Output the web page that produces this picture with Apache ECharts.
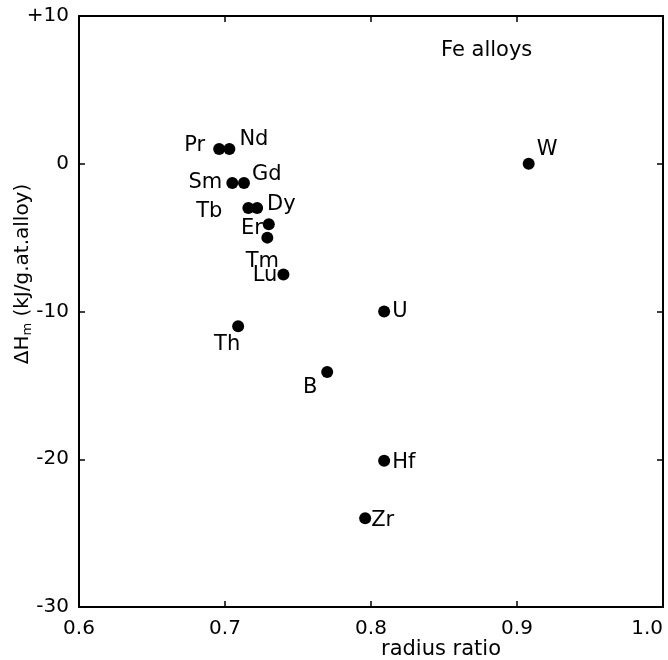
<!DOCTYPE html>
<html>
<head>
<meta charset="utf-8">
<script src="https://cdn.jsdelivr.net/npm/echarts@6/dist/echarts.min.js"></script>
<style>
  html, body { margin: 0; padding: 0; background: #fff; }
  #chart { width: 668px; height: 660px; }
</style>
</head>
<body>
<div id="chart"></div>
<script>
// Mixing enthalpy of Fe alloys against the solute/solvent radius ratio
const elements = ['Pr', 'Nd', 'Sm', 'Gd', 'Tb', 'Dy', 'Er', 'Tm', 'Lu', 'Th', 'B', 'U', 'Hf', 'Zr', 'W'];
const radiusRatio = [0.696, 0.703, 0.705, 0.713, 0.716, 0.722, 0.730, 0.729, 0.740, 0.709, 0.770, 0.809, 0.809, 0.796, 0.908];
const deltaH = [1.0, 1.0, -1.3, -1.3, -3.0, -3.0, -4.1, -5.0, -7.5, -11.0, -14.1, -10.0, -20.1, -24.0, 0.0];
const xTicks = [0.6, 0.7, 0.8, 0.9, 1.0];
const yTicks = [10, 0, -10, -20, -30];

const FONT = 'DejaVu Sans';
const INK = '#000';

// where each element symbol sits relative to its dot
const labelPlacement = {
  Pr: { position: 'left', distance: 8, offset: [0, -3] },
  Nd: { position: 'right', distance: 4, offset: [0, -9] },
  Sm: { position: 'left', distance: 4, offset: [0, 0] },
  Gd: { position: 'right', distance: 2, offset: [0, -8] },
  Tb: { position: 'left', distance: 20, offset: [0, 3] },
  Dy: { position: 'right', distance: 4, offset: [0, -4] },
  Er: { position: 'left', distance: 0, offset: [0, 4] },
  Tm: { position: 'bottom', distance: 7, offset: [-5, 0] },
  Lu: { position: 'left', distance: 0, offset: [0, 1] },
  Th: { position: 'bottom', distance: 2, offset: [-11, 0] },
  B:  { position: 'bottom', distance: -1, offset: [-17, 0] },
  U:  { position: 'right', distance: 2, offset: [0, 0] },
  Hf: { position: 'right', distance: 2, offset: [0, 2] },
  Zr: { position: 'right', distance: 0, offset: [0, 2] },
  W:  { position: 'right', distance: 2, offset: [0, -14] }
};

const points = elements.map((name, i) => ({
  name: name,
  value: [radiusRatio[i], deltaH[i]],
  label: Object.assign({ show: true, formatter: name, color: INK }, labelPlacement[name])
}));

const fmtY = v => (v > 0 ? '+' + v : String(v));

const xBase = {
  type: 'value', min: xTicks[0], max: xTicks[xTicks.length - 1], interval: 0.1,
  axisLine: { show: true, onZero: false, lineStyle: { color: INK, width: 2 } },
  axisTick: { show: true, inside: true, length: 6, lineStyle: { color: INK, width: 1.5 } },
  splitLine: { show: false }
};
const yBase = {
  type: 'value', min: yTicks[yTicks.length - 1], max: yTicks[0], interval: 10,
  axisLine: { show: true, onZero: false, lineStyle: { color: INK, width: 2 } },
  axisTick: { show: true, inside: true, length: 6, lineStyle: { color: INK, width: 1.5 } },
  splitLine: { show: false }
};

const chart = echarts.init(document.getElementById('chart'), null, { renderer: 'canvas' });
chart.setOption({
  animation: false,
  backgroundColor: '#fff',
  grid: { left: 79, right: 5, top: 16, bottom: 53, containLabel: false, outerBoundsMode: 'none' },
  xAxis: [
    Object.assign({}, xBase, {
      position: 'bottom',
      axisLabel: {
        color: INK, fontFamily: FONT, fontSize: 20, margin: 12,
        alignMaxLabel: 'right', formatter: v => v.toFixed(1)
      }
    }),
    Object.assign({}, xBase, { position: 'top', axisLabel: { show: false } })
  ],
  yAxis: [
    Object.assign({}, yBase, {
      position: 'left',
      axisLabel: { color: INK, fontFamily: FONT, fontSize: 20, margin: 10, formatter: fmtY }
    }),
    Object.assign({}, yBase, { position: 'right', axisLabel: { show: false } })
  ],
  series: [{
    type: 'scatter',
    symbol: 'circle',
    symbolSize: 12,
    itemStyle: { color: INK, opacity: 1 },
    label: { color: INK, fontFamily: FONT, fontSize: 21 },
    emphasis: { disabled: true },
    data: points
  }],
  graphic: [
    {
      type: 'text', left: 441, top: 40,
      style: { text: 'Fe alloys', fill: INK, font: '21px "DejaVu Sans"' }
    },
    {
      type: 'text', x: 441, y: 650,
      style: { text: 'radius ratio', fill: INK, font: '21px "DejaVu Sans"', align: 'center', verticalAlign: 'middle' }
    },
    {
      type: 'text', x: 23, y: 274, rotation: Math.PI / 2,
      style: {
        text: 'ΔH{sub|m} (kJ/g.at.alloy)',
        fill: INK, font: '20px "DejaVu Sans"', align: 'center', verticalAlign: 'middle',
        rich: { sub: { fontSize: 13, fontFamily: FONT, fill: INK, padding: [9, 0, 0, 0] } }
      }
    }
  ]
});
</script>
</body>
</html>
